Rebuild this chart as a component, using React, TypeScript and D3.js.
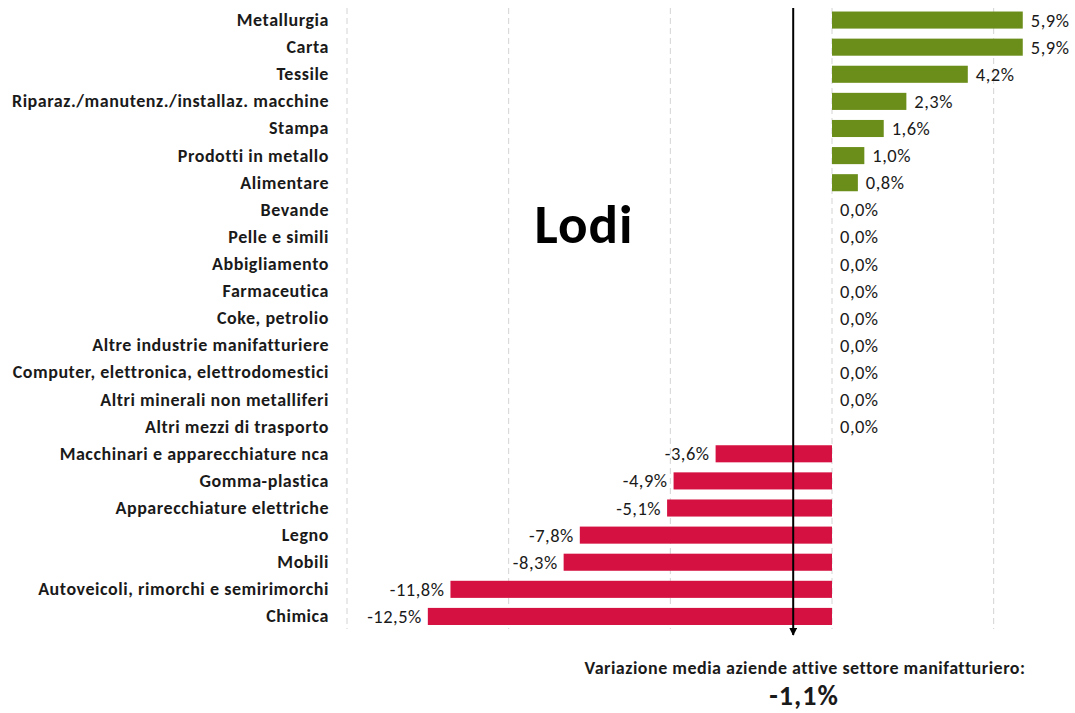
import React from "react";
import * as d3 from "d3";

const categories = [
  "Metallurgia",
  "Carta",
  "Tessile",
  "Riparaz./manutenz./installaz. macchine",
  "Stampa",
  "Prodotti in metallo",
  "Alimentare",
  "Bevande",
  "Pelle e simili",
  "Abbigliamento",
  "Farmaceutica",
  "Coke, petrolio",
  "Altre industrie manifatturiere",
  "Computer, elettronica, elettrodomestici",
  "Altri minerali non metalliferi",
  "Altri mezzi di trasporto",
  "Macchinari e apparecchiature nca",
  "Gomma-plastica",
  "Apparecchiature elettriche",
  "Legno",
  "Mobili",
  "Autoveicoli, rimorchi e semirimorchi",
  "Chimica",
];

const values = [
  5.9, 5.9, 4.2, 2.3, 1.6, 1.0, 0.8, 0.0, 0.0, 0.0, 0.0, 0.0, 0.0, 0.0, 0.0,
  0.0, -3.6, -4.9, -5.1, -7.8, -8.3, -11.8, -12.5,
];

const gridTicks = [-15, -10, -5, 0, 5];
const averageValue = -1.1;
const arrowPosition = -1.2;
const title = "Lodi";
const avgLabel = "Variazione media aziende attive settore manifatturiero:";

const W = 1075;
const H = 713;
const FONT = "Carlito, Calibri, Lato, 'Open Sans', sans-serif";

const fmt = (v: number) => v.toFixed(1).replace(".", ",") + "%";

export default function App() {
  const x = d3.scaleLinear().domain([-15, 0]).range([347, 832]);
  const y = d3
    .scaleBand<string>()
    .domain(categories)
    .range([6.5, 630])
    .paddingInner(0.37)
    .paddingOuter(0.185);
  const bh = y.bandwidth();
  const plotTop = 8;
  const plotBottom = 629;

  return (
    <svg
      width={W}
      height={H}
      style={{ position: "absolute", left: 0, top: 0, background: "#fff" }}
      fontFamily={FONT}
    >
      {gridTicks.map((t) => (
        <line
          key={t}
          x1={x(t)}
          x2={x(t)}
          y1={plotTop}
          y2={plotBottom}
          stroke="#d4d4d4"
          strokeWidth={1}
          strokeDasharray="6,4"
        />
      ))}
      {categories.map((c, i) => {
        const v = values[i];
        const yc = (y(c) as number) + bh / 2;
        const x0 = x(Math.min(0, v));
        const x1 = x(Math.max(0, v));
        return (
          <g key={c}>
            <text
              x={329}
              y={yc}
              textAnchor="end"
              dominantBaseline="central"
              fontWeight="bold"
              fontSize={18}
              letterSpacing={0.55}
              fill="#1a1a1a"
            >
              {c}
            </text>
            {v !== 0 && (
              <rect
                x={x0}
                y={y(c)}
                width={x1 - x0}
                height={bh}
                fill={v > 0 ? "#6b8e1b" : "#d41140"}
              />
            )}
            <text
              x={v < 0 ? x0 - 6 : x1 + 8}
              y={yc}
              textAnchor={v < 0 ? "end" : "start"}
              dominantBaseline="central"
              fontSize={18.5}
              letterSpacing={0.5}
              fill="#1a1a1a"
            >
              {fmt(v)}
            </text>
          </g>
        );
      })}
      <defs>
        <marker
          id="arrowHead"
          viewBox="0 0 10 10"
          refX={9}
          refY={5}
          markerWidth={4}
          markerHeight={4}
          orient="auto"
        >
          <path d="M0,0 L10,5 L0,10 z" fill="#000" />
        </marker>
      </defs>
      <line
        x1={x(arrowPosition)}
        x2={x(arrowPosition)}
        y1={8}
        y2={635}
        stroke="#000"
        strokeWidth={2}
        markerEnd="url(#arrowHead)"
      />
      <text
        x={584}
        y={243}
        textAnchor="middle"
        fontWeight="bold"
        fontSize={55}
        letterSpacing={1}
        fill="#000"
      >
        {title}
      </text>
      <text
        x={805}
        y={674}
        textAnchor="middle"
        fontWeight="bold"
        fontSize={18}
        letterSpacing={0.5}
        fill="#1a1a1a"
      >
        {avgLabel}
      </text>
      <text
        x={804}
        y={705}
        textAnchor="middle"
        fontWeight="bold"
        fontSize={28}
        letterSpacing={1}
        fill="#1a1a1a"
      >
        {fmt(averageValue)}
      </text>
    </svg>
  );
}
